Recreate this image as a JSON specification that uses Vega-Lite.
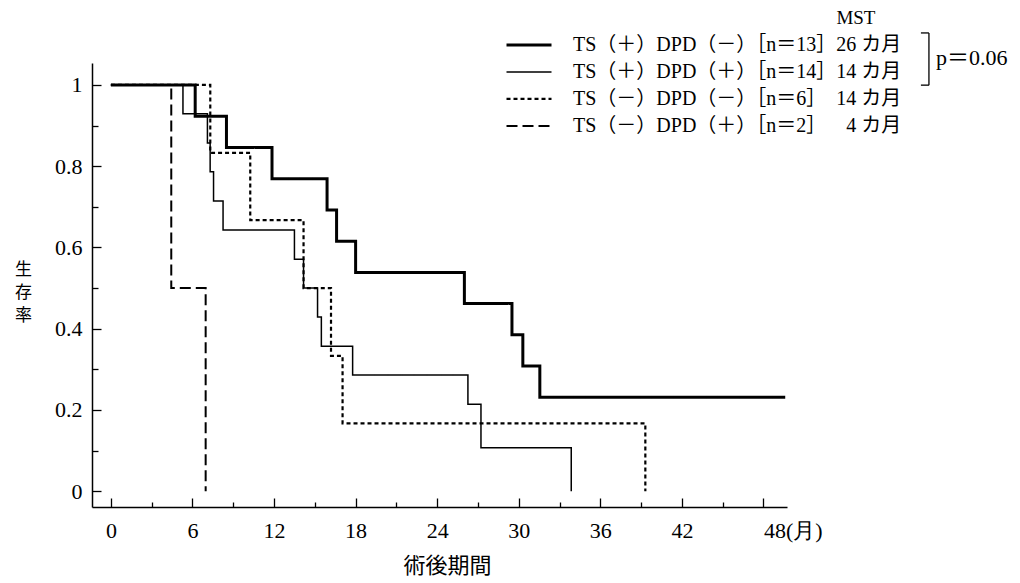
{
  "$schema": "https://vega.github.io/schema/vega-lite/v6.json",
  "width": 695,
  "height": 444,
  "autosize": {"type": "none"},
  "padding": {"left": 92, "top": 63, "right": 233, "bottom": 76},
  "background": "white",
  "config": {
    "view": {"stroke": null},
    "font": "Liberation Serif",
    "axis": {
      "grid": false,
      "domainColor": "black",
      "domainWidth": 1.5,
      "tickColor": "black",
      "tickWidth": 1.3,
      "labelColor": "black",
      "labelFont": "Liberation Serif",
      "labelFontSize": 22,
      "titleFont": "Noto Sans CJK JP",
      "titleFontSize": 19,
      "titleFontWeight": "normal",
      "titleColor": "black"
    }
  },
  "datasets": {
    "km": [
      {"g": "TS（＋）DPD（－）［n＝13］26 カ月", "t": 0, "s": 1},
      {"g": "TS（＋）DPD（－）［n＝13］26 カ月", "t": 6.2, "s": 0.923},
      {"g": "TS（＋）DPD（－）［n＝13］26 カ月", "t": 8.5, "s": 0.846},
      {"g": "TS（＋）DPD（－）［n＝13］26 カ月", "t": 11.85, "s": 0.769},
      {"g": "TS（＋）DPD（－）［n＝13］26 カ月", "t": 15.9, "s": 0.692},
      {"g": "TS（＋）DPD（－）［n＝13］26 カ月", "t": 16.6, "s": 0.615},
      {"g": "TS（＋）DPD（－）［n＝13］26 カ月", "t": 18.0, "s": 0.538},
      {"g": "TS（＋）DPD（－）［n＝13］26 カ月", "t": 26.0, "s": 0.462},
      {"g": "TS（＋）DPD（－）［n＝13］26 カ月", "t": 29.5, "s": 0.385},
      {"g": "TS（＋）DPD（－）［n＝13］26 カ月", "t": 30.3, "s": 0.308},
      {"g": "TS（＋）DPD（－）［n＝13］26 カ月", "t": 31.55, "s": 0.231},
      {"g": "TS（＋）DPD（－）［n＝13］26 カ月", "t": 49.6, "s": 0.231},
      {"g": "TS（＋）DPD（＋）［n＝14］14 カ月", "t": 0, "s": 1},
      {"g": "TS（＋）DPD（＋）［n＝14］14 カ月", "t": 5.3, "s": 0.929},
      {"g": "TS（＋）DPD（＋）［n＝14］14 カ月", "t": 7.1, "s": 0.857},
      {"g": "TS（＋）DPD（＋）［n＝14］14 カ月", "t": 7.3, "s": 0.786},
      {"g": "TS（＋）DPD（＋）［n＝14］14 カ月", "t": 7.55, "s": 0.714},
      {"g": "TS（＋）DPD（＋）［n＝14］14 カ月", "t": 8.25, "s": 0.643},
      {"g": "TS（＋）DPD（＋）［n＝14］14 カ月", "t": 13.5, "s": 0.571},
      {"g": "TS（＋）DPD（＋）［n＝14］14 カ月", "t": 14.17, "s": 0.5},
      {"g": "TS（＋）DPD（＋）［n＝14］14 カ月", "t": 15.2, "s": 0.429},
      {"g": "TS（＋）DPD（＋）［n＝14］14 カ月", "t": 15.48, "s": 0.357},
      {"g": "TS（＋）DPD（＋）［n＝14］14 カ月", "t": 17.78, "s": 0.286},
      {"g": "TS（＋）DPD（＋）［n＝14］14 カ月", "t": 26.26, "s": 0.214},
      {"g": "TS（＋）DPD（＋）［n＝14］14 カ月", "t": 27.22, "s": 0.107},
      {"g": "TS（＋）DPD（＋）［n＝14］14 カ月", "t": 33.86, "s": 0},
      {"g": "TS（－）DPD（－）［n＝6］\u00a0\u00a014 カ月", "t": 0, "s": 1},
      {"g": "TS（－）DPD（－）［n＝6］\u00a0\u00a014 カ月", "t": 7.31, "s": 0.833},
      {"g": "TS（－）DPD（－）［n＝6］\u00a0\u00a014 カ月", "t": 10.25, "s": 0.667},
      {"g": "TS（－）DPD（－）［n＝6］\u00a0\u00a014 カ月", "t": 14.17, "s": 0.5},
      {"g": "TS（－）DPD（－）［n＝6］\u00a0\u00a014 カ月", "t": 16.19, "s": 0.333},
      {"g": "TS（－）DPD（－）［n＝6］\u00a0\u00a014 カ月", "t": 17.04, "s": 0.167},
      {"g": "TS（－）DPD（－）［n＝6］\u00a0\u00a014 カ月", "t": 39.31, "s": 0},
      {"g": "TS（－）DPD（＋）［n＝2］\u00a0\u00a0\u00a0\u00a04 カ月", "t": 0, "s": 1},
      {"g": "TS（－）DPD（＋）［n＝2］\u00a0\u00a0\u00a0\u00a04 カ月", "t": 4.44, "s": 0.5},
      {"g": "TS（－）DPD（＋）［n＝2］\u00a0\u00a0\u00a0\u00a04 カ月", "t": 6.97, "s": 0}
    ]
  },
  "resolve": {"axis": {"x": "independent", "y": "independent"}},
  "layer": [
    {
      "data": {"name": "km"},
      "mark": {"type": "line", "interpolate": "step-after", "color": "black", "clip": false, "strokeCap": "butt"},
      "encoding": {
        "x": {
          "field": "t", "type": "quantitative",
          "scale": {"domain": [-1.39, 49.73], "nice": false, "zero": false},
          "axis": {
            "orient": "bottom",
            "values": [0, 6, 12, 18, 24, 30, 36, 42, 48],
            "tickSize": -9,
            "labelPadding": 22,
            "labelExpr": "datum.value == 48 ? '48(月)' : datum.label",
            "labelAlign": {"condition": {"test": "datum.value == 48", "value": "left"}, "value": "center"},
            "title": "術後期間",
            "titleFontSize": 22,
            "titleX": 355,
            "titleAnchor": "start",
            "titleAlign": "center",
            "titlePadding": 14
          }
        },
        "y": {
          "field": "s", "type": "quantitative",
          "scale": {"domain": [-0.039, 1.054], "nice": false, "zero": false},
          "axis": {
            "orient": "left",
            "values": [0, 0.2, 0.4, 0.6, 0.8, 1],
            "format": "~g",
            "tickSize": -9,
            "labelPadding": 19,
            "title": ["生", "存", "率"],
            "titleAngle": 0,
            "titleFontSize": 17,
            "titleX": -69,
            "titleY": 198,
            "titleAlign": "center",
            "titleBaseline": "top",
            "titleLineHeight": 23
          }
        },
        "strokeDash": {
          "field": "g", "type": "nominal",
          "scale": {
            "domain": ["TS（＋）DPD（－）［n＝13］26 カ月", "TS（＋）DPD（＋）［n＝14］14 カ月", "TS（－）DPD（－）［n＝6］\u00a0\u00a014 カ月", "TS（－）DPD（＋）［n＝2］\u00a0\u00a0\u00a0\u00a04 カ月"],
            "range": [[1, 0], [1, 0], [4, 3], [11, 5]]
          },
          "legend": {
            "orient": "none",
            "legendX": 413,
            "legendY": -31.4,
            "title": null,
            "symbolType": "stroke",
            "symbolSize": 2025,
            "symbolStrokeColor": "black",
            "clipHeight": 26.7,
            "rowPadding": 0,
            "labelFont": "Liberation Serif, Noto Sans CJK JP",
            "labelFontSize": 20,
            "labelColor": "black",
            "labelOffset": 20,
            "labelLimit": 0
          }
        },
        "strokeWidth": {
          "field": "g", "type": "nominal",
          "scale": {
            "type": "ordinal",
            "domain": ["TS（＋）DPD（－）［n＝13］26 カ月", "TS（＋）DPD（＋）［n＝14］14 カ月", "TS（－）DPD（－）［n＝6］\u00a0\u00a014 カ月", "TS（－）DPD（＋）［n＝2］\u00a0\u00a0\u00a0\u00a04 カ月"],
            "range": [3, 1.5, 2.2, 2]
          }
        }
      }
    },
    {
      "data": {"values": [{}]},
      "mark": {"type": "rule", "color": "black", "strokeWidth": 1.3, "clip": false},
      "encoding": {
        "x": {
          "datum": 60.17, "type": "quantitative",
          "axis": {"orient": "bottom", "values": [3, 9, 15, 21, 27, 33, 39, 45], "tickSize": -5, "labels": false, "domain": false, "title": null}
        },
        "y": {
          "datum": 1.128, "type": "quantitative",
          "axis": {"orient": "left", "values": [0.1, 0.3, 0.5, 0.7, 0.9], "tickSize": -6, "labels": false, "domain": false, "title": null}
        },
        "y2": {"datum": 0.9995}
      }
    },
    {
      "data": {"values": [{}]},
      "mark": {"type": "rule", "color": "black", "strokeWidth": 1.3, "clip": false},
      "encoding": {
        "x": {"datum": 59.58, "type": "quantitative", "axis": null},
        "x2": {"datum": 60.17},
        "y": {"datum": 1.128, "type": "quantitative", "axis": null}
      }
    },
    {
      "data": {"values": [{}]},
      "mark": {"type": "rule", "color": "black", "strokeWidth": 1.3, "clip": false},
      "encoding": {
        "x": {"datum": 59.58, "type": "quantitative", "axis": null},
        "x2": {"datum": 60.17},
        "y": {"datum": 0.9995, "type": "quantitative", "axis": null}
      }
    },
    {
      "data": {"values": [{}]},
      "mark": {"type": "text", "align": "left", "baseline": "middle", "font": "Liberation Serif, Noto Sans CJK JP", "fontSize": 22, "color": "black", "clip": false},
      "encoding": {
        "x": {"datum": 60.69, "type": "quantitative", "axis": null},
        "y": {"datum": 1.066, "type": "quantitative", "axis": null},
        "text": {"value": "p＝0.06"}
      }
    },
    {
      "data": {"values": [{}]},
      "mark": {"type": "text", "align": "center", "baseline": "middle", "font": "Liberation Serif", "fontSize": 19, "color": "black", "clip": false},
      "encoding": {
        "x": {"datum": 54.8, "type": "quantitative", "axis": null},
        "y": {"datum": 1.165, "type": "quantitative", "axis": null},
        "text": {"value": "MST"}
      }
    }
  ]
}
